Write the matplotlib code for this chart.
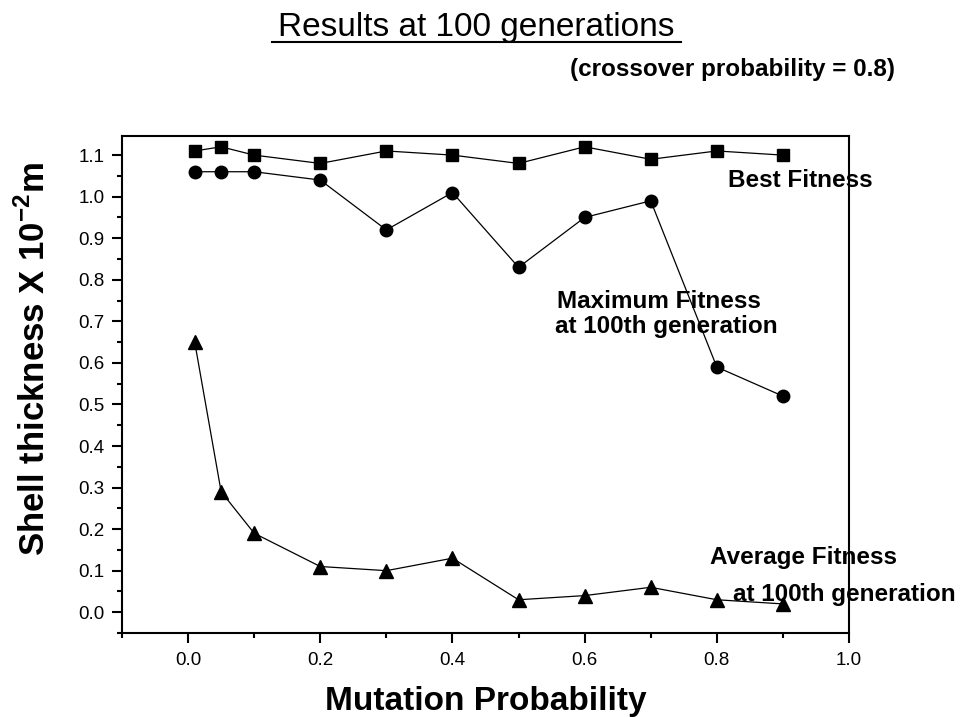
import matplotlib.pyplot as plt
from matplotlib.ticker import MultipleLocator

plt.rcParams['font.family'] = ['Liberation Sans', 'DejaVu Sans']
plt.rcParams['mathtext.fontset'] = 'custom'
plt.rcParams['mathtext.bf'] = 'Liberation Sans:bold'

# data
mutation_prob = [0.01, 0.05, 0.1, 0.2, 0.3, 0.4, 0.5, 0.6, 0.7, 0.8, 0.9]
best_fitness = [1.11, 1.12, 1.10, 1.08, 1.11, 1.10, 1.08, 1.12, 1.09, 1.11, 1.10]
max_fitness = [1.06, 1.06, 1.06, 1.04, 0.92, 1.01, 0.83, 0.95, 0.99, 0.59, 0.52]
avg_fitness = [0.65, 0.29, 0.19, 0.11, 0.10, 0.13, 0.03, 0.04, 0.06, 0.03, 0.02]

W, H = 969, 717
fig = plt.figure(figsize=(W / 100, H / 100), dpi=100)
ax = fig.add_axes([122 / W, 1 - 633 / H, (849 - 122) / W, (633 - 136) / H])

ax.plot(mutation_prob, best_fitness, 'k-', marker='s', ms=8.5, lw=0.9)
ax.plot(mutation_prob, max_fitness, 'k-', marker='o', ms=9, lw=0.9)
ax.plot(mutation_prob, avg_fitness, 'k-', marker='^', ms=10.5, lw=0.9)

ax.set_xlim(-0.1, 1.0)
ax.set_ylim(-0.05, 1.146)
ax.xaxis.set_minor_locator(MultipleLocator(0.1))
ax.yaxis.set_minor_locator(MultipleLocator(0.05))
ax.set_xticks([0.0, 0.2, 0.4, 0.6, 0.8, 1.0])
ax.set_yticks([0.0, 0.1, 0.2, 0.3, 0.4, 0.5, 0.6, 0.7, 0.8, 0.9, 1.0, 1.1])
ax.tick_params(which='both', direction='out', top=False, right=False, width=1.5)
ax.tick_params(which='major', length=7.5, labelsize=13.5)
ax.tick_params(axis='y', which='major', pad=5)
ax.tick_params(axis='x', which='major', pad=6)
ax.tick_params(which='minor', length=3.5)
for sp in ax.spines.values():
    sp.set_linewidth(1.5)

fig.text(0.5 * (122 + 849) / W, 1 - 710 / H, 'Mutation Probability', fontsize=24,
         fontweight='bold', ha='center', va='baseline')
fig.text(34 / W, 1 - 359 / H, 'Shell thickness X 10$^{\\mathbf{-2}}$m', fontsize=25,
         fontweight='bold', rotation=90, ha='center', va='center')

ann = dict(fontsize=17.5, fontweight='bold', va='baseline')
ax.text(0.817, 1.023, 'Best Fitness', **ann)
ax.text(0.558, 0.731, 'Maximum Fitness', **ann)
ax.text(0.555, 0.671, 'at 100th generation', **ann)
ax.text(0.790, 0.116, 'Average Fitness', **ann)
ax.text(0.825, 0.027, 'at 100th generation', **ann)

fig.text(476.5 / W, 1 - 36 / H, 'Results at 100 generations', fontsize=24,
         ha='center', va='baseline')
fig.add_artist(plt.Line2D([272 / W, 681 / W], [1 - 42 / H, 1 - 42 / H], color='k', lw=1.5))
fig.text(895 / W, 1 - 76 / H, '(crossover probability = 0.8)', fontsize=17.5,
         fontweight='bold', ha='right', va='baseline')

fig.savefig('out.png', dpi=100)
